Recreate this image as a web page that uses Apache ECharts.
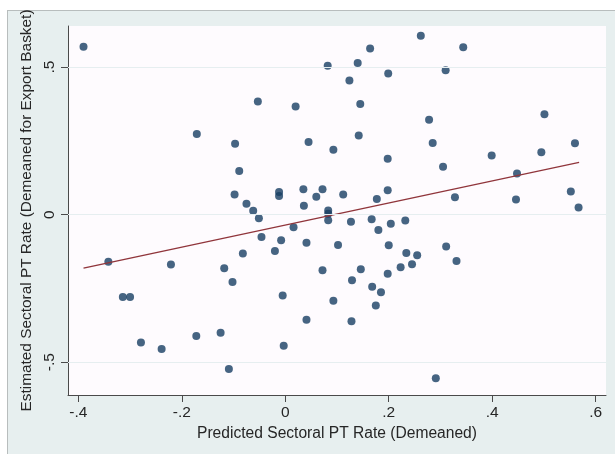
<!DOCTYPE html>
<html><head><meta charset="utf-8">
<script src="https://cdn.jsdelivr.net/npm/echarts@6/dist/echarts.min.js"></script>
<style>
html,body{margin:0;padding:0;background:#fff;overflow:hidden;}
#panel{position:absolute;left:7px;top:10px;width:608px;height:444px;background:#e7efef;border-top:1px solid #b8bdbd;border-left:1px solid #b8bdbd;box-sizing:border-box;}
#chart{position:absolute;left:0;top:0;width:615px;height:454px;}
</style></head><body>
<div id="panel"></div><div id="chart"></div>
<script>
const predictedPT = [-0.390,-0.053,0.020,-0.171,-0.097,0.045,-0.089,-0.098,-0.075,-0.062,
-0.051,-0.012,-0.012,0.035,0.036,0.016,0.082,0.164,0.140,0.124,
0.199,0.262,0.344,0.310,0.145,0.278,0.501,0.142,0.285,0.560,
0.093,0.198,0.399,0.495,0.305,0.448,0.072,0.060,0.112,0.198,
0.177,0.328,0.446,0.552,0.567,0.083,0.083,0.083,0.127,0.167,
0.204,0.232,0.180,-0.046,-0.008,0.041,-0.082,-0.020,-0.342,-0.221,
-0.118,-0.102,-0.314,-0.300,-0.005,0.041,-0.279,-0.239,-0.172,-0.125,
-0.003,-0.109,0.102,0.200,0.234,0.255,0.311,0.331,0.072,0.146,
0.129,0.223,0.245,0.198,0.168,0.185,0.093,0.175,0.128,0.291];
const estimatedPT = [0.569,0.383,0.366,0.273,0.240,0.246,0.148,0.068,0.037,0.013,
-0.012,0.077,0.063,0.086,0.030,-0.043,0.504,0.563,0.514,0.454,
0.478,0.606,0.567,0.489,0.375,0.321,0.340,0.268,0.243,0.242,
0.220,0.189,0.200,0.211,0.162,0.139,0.086,0.061,0.068,0.083,
0.053,0.059,0.051,0.078,0.024,0.014,0.003,-0.019,-0.024,-0.016,
-0.031,-0.020,-0.052,-0.076,-0.087,-0.095,-0.132,-0.123,-0.160,-0.169,
-0.182,-0.228,-0.279,-0.279,-0.274,-0.356,-0.433,-0.455,-0.411,-0.400,
-0.444,-0.523,-0.103,-0.104,-0.130,-0.138,-0.108,-0.157,-0.188,-0.185,
-0.222,-0.178,-0.168,-0.200,-0.244,-0.263,-0.292,-0.308,-0.361,-0.554];
const fitX = [-0.39, 0.568];
const fitY = [-0.181, 0.177];
const xTicks = [-0.4,-0.2,0,0.2,0.4,0.6];
const xTickLabels = ['-.4','-.2','0','.2','.4','.6'];
const yTicks = [-0.5,0,0.5];
const yTickLabels = ['-.5','0','.5'];

function lab(ticks, labels){
  return function(v){
    for (let i=0;i<ticks.length;i++){ if (Math.abs(v-ticks[i])<1e-6) return labels[i]; }
    return '';
  };
}
const FONT = "'Liberation Sans', Arial, sans-serif";
const chart = echarts.init(document.getElementById('chart'), null, {renderer:'canvas'});
chart.setOption({
  backgroundColor: 'transparent',
  animation: false,
  textStyle: {fontFamily: FONT},
  grid: {left: 68, top: 26, right: 9, bottom: 59, show: true, backgroundColor: '#fefbfe', borderWidth: 0},
  xAxis: {
    type: 'value', min: -0.42, max: 0.62,
    name: 'Predicted Sectoral PT Rate (Demeaned)', nameLocation: 'middle', nameGap: 22,
    nameTextStyle: {fontSize: 15.6, color: '#262626', fontFamily: FONT},
    axisLine: {show: true, onZero: false, lineStyle: {color: '#4a4a4a', width: 1}},
    axisTick: {show: true, length: 7, customValues: xTicks, lineStyle: {color: '#4a4a4a'}},
    axisLabel: {customValues: xTicks, formatter: lab(xTicks, xTickLabels), fontSize: 15.5, color: '#262626', margin: 10, fontFamily: FONT},
    splitLine: {show: false}
  },
  yAxis: {
    type: 'value', min: -0.611, max: 0.639,
    name: 'Estimated Sectoral PT Rate (Demeaned for Export Basket)', nameLocation: 'middle', nameGap: 23,
    nameTextStyle: {fontSize: 15.4, color: '#262626', fontFamily: FONT},
    axisLine: {show: true, onZero: false, lineStyle: {color: '#4a4a4a', width: 1}},
    axisTick: {show: true, length: 7, customValues: yTicks, lineStyle: {color: '#4a4a4a'}},
    axisLabel: {customValues: yTicks, formatter: lab(yTicks, yTickLabels), rotate: 90, fontSize: 15.5, color: '#262626', margin: 10, fontFamily: FONT},
    splitLine: {show: false}
  },
  series: [
    {
      type: 'line', data: [], z: 1, silent: true,
      markLine: {
        silent: true, symbol: 'none', animation: false,
        label: {show: false},
        lineStyle: {color: '#e6eef0', width: 1.2, type: 'solid'},
        data: yTicks.map(v => ({yAxis: v}))
      }
    },
    {
      type: 'scatter', z: 2, symbol: 'circle', symbolSize: 8,
      itemStyle: {color: '#183f63'},
      data: predictedPT.map((x,i)=>[x, estimatedPT[i]])
    },
    {
      type: 'line', z: 3, symbol: 'none', showSymbol: false,
      lineStyle: {color: '#90353b', width: 1.4},
      data: fitX.map((x,i)=>[x, fitY[i]])
    }
  ]
});
</script>
</body></html>
